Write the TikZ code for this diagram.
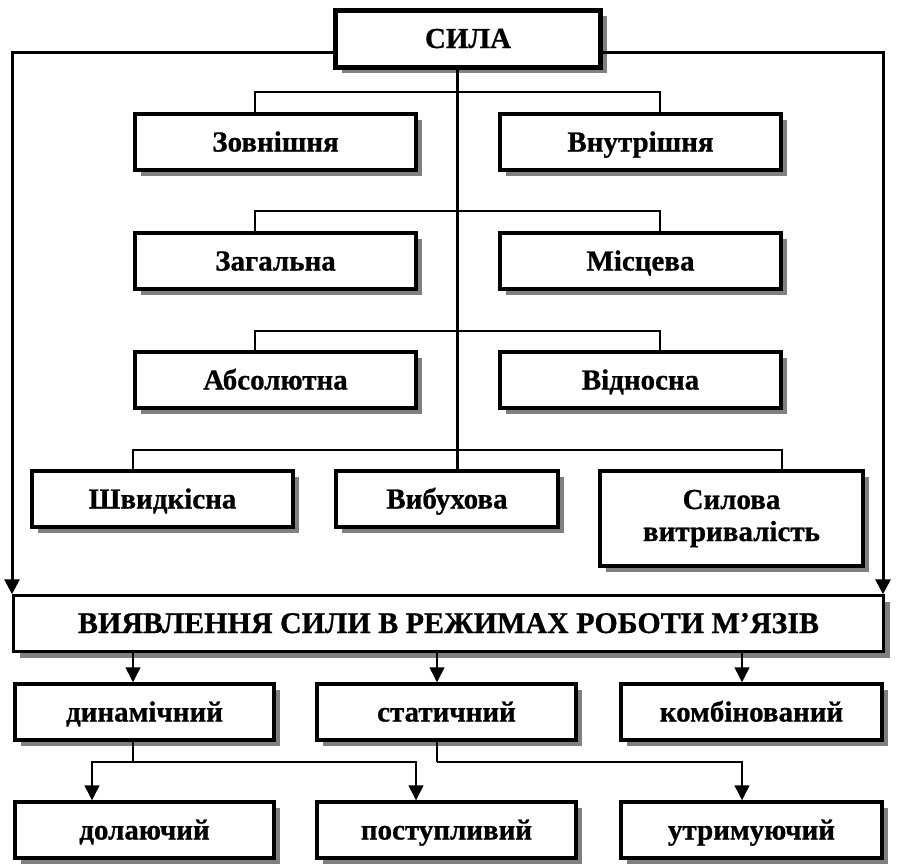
\documentclass[tikz,border=0pt]{standalone}
\usepackage{fontspec}
\setmainfont{Liberation Serif}[BoldFeatures={FakeBold=0.8}]
\usetikzlibrary{arrows.meta,shadows}
\begin{document}
\begin{tikzpicture}[x=1pt,y=-1pt,
  boxshadow/.style={drop shadow={shadow xshift=6pt,shadow yshift=-6pt,fill=black!50,opacity=1}},
  box/.style={draw,line width=3.5pt,fill=white,inner sep=0pt,align=center,
    font=\fontsize{29}{32}\selectfont\bfseries,boxshadow},
  oneline/.style={text height=19pt,text depth=0pt},
  thinline/.style={line width=1.3pt},
  thickline/.style={line width=3pt},
  arr/.style={line width=1.5pt,-{Triangle[width=15pt,length=15pt]}},
  bigarr/.style={line width=3pt,-{Triangle[width=15pt,length=15pt]}}]
\useasboundingbox (0,0) rectangle (899,865);

% top node and the property pairs
\node[box,oneline,line width=5pt,minimum width=265pt,minimum height=57pt] (sila) at (468,38.5) {СИЛА};
\node[box,oneline,minimum width=281pt,minimum height=56pt] (zovn) at (275.5,142) {Зовнішня};
\node[box,oneline,minimum width=281pt,minimum height=56pt] (vnut) at (640.5,142) {Внутрішня};
\node[box,oneline,minimum width=281pt,minimum height=56pt] (zag) at (275.5,261) {Загальна};
\node[box,oneline,minimum width=281pt,minimum height=56pt] (mis) at (640.5,261) {Місцева};
\node[box,oneline,minimum width=281pt,minimum height=56pt] (abs) at (275.5,380) {Абсолютна};
\node[box,oneline,minimum width=281pt,minimum height=56pt] (vidn) at (640.5,380) {Відносна};

% kinds of strength
\node[box,oneline,minimum width=261pt,minimum height=56pt] (shv) at (162.5,499) {Швидкісна};
\node[box,oneline,minimum width=222pt,minimum height=56pt] (vyb) at (447,499) {Вибухова};
\node[box,minimum width=263pt,minimum height=95pt] (sylv) at (731.5,518.5) {Силова\\витривалість};

% work modes
\node[box,oneline,line width=2.5pt,minimum width=870pt,minimum height=56pt,
  font=\fontsize{30}{34}\selectfont\bfseries] (vyav) at (448.5,623.5) {ВИЯВЛЕННЯ СИЛИ В РЕЖИМАХ РОБОТИ М’ЯЗІВ};
\node[box,oneline,minimum width=259pt,minimum height=56pt] (dyn) at (144.5,712) {динамічний};
\node[box,oneline,minimum width=259pt,minimum height=56pt] (stat) at (446.5,712) {статичний};
\node[box,oneline,minimum width=261pt,minimum height=56pt] (komb) at (751.5,712) {комбінований};
\node[box,oneline,minimum width=259pt,minimum height=56pt] (dol) at (144.5,830) {долаючий};
\node[box,oneline,minimum width=259pt,minimum height=56pt] (post) at (446.5,830) {поступливий};
\node[box,oneline,minimum width=261pt,minimum height=56pt] (utr) at (751.5,830) {утримуючий};

% branch points
\coordinate (t1) at (457,92);
\coordinate (t2) at (457,211);
\coordinate (t3) at (457,331);
\coordinate (t4) at (457,450);
\coordinate (d1) at (133,762);
\coordinate (s1) at (437,762);

% outer loop to the work modes
\draw[bigarr] (sila.west |- 0,52) -| (vyav.north -| 12,0);
\draw[bigarr] (sila.east |- 0,52) -| (vyav.north -| 883,0);

% property branches
\draw[thinline] (zovn.north -| 255,0) |- (t1) -| (vnut.north -| 660,0);
\draw[thinline] (zag.north -| 255,0) |- (t2) -| (mis.north -| 660,0);
\draw[thinline] (abs.north -| 255,0) |- (t3) -| (vidn.north -| 660,0);
\draw[thinline] (shv.north -| 133,0) |- (t4) -| (sylv.north -| 782,0);

% central trunk
\draw[thickline] (sila.south -| 457,0) -- (vyb.north -| 457,0);

% modes of muscle work
\draw[arr] (vyav.south -| 133,0) -- (dyn.north -| 133,0);
\draw[arr] (vyav.south -| 437,0) -- (stat.north -| 437,0);
\draw[arr] (vyav.south -| 742,0) -- (komb.north -| 742,0);

\draw[thinline] (dyn.south -| d1) -- (d1);
\draw[arr] (d1) -| (dol.north -| 92,0);
\draw[arr] (d1) -| (post.north -| 416,0);
\draw[thinline] (stat.south -| s1) -- (s1);
\draw[arr] (s1) -| (utr.north -| 742,0);
\end{tikzpicture}
\end{document}
